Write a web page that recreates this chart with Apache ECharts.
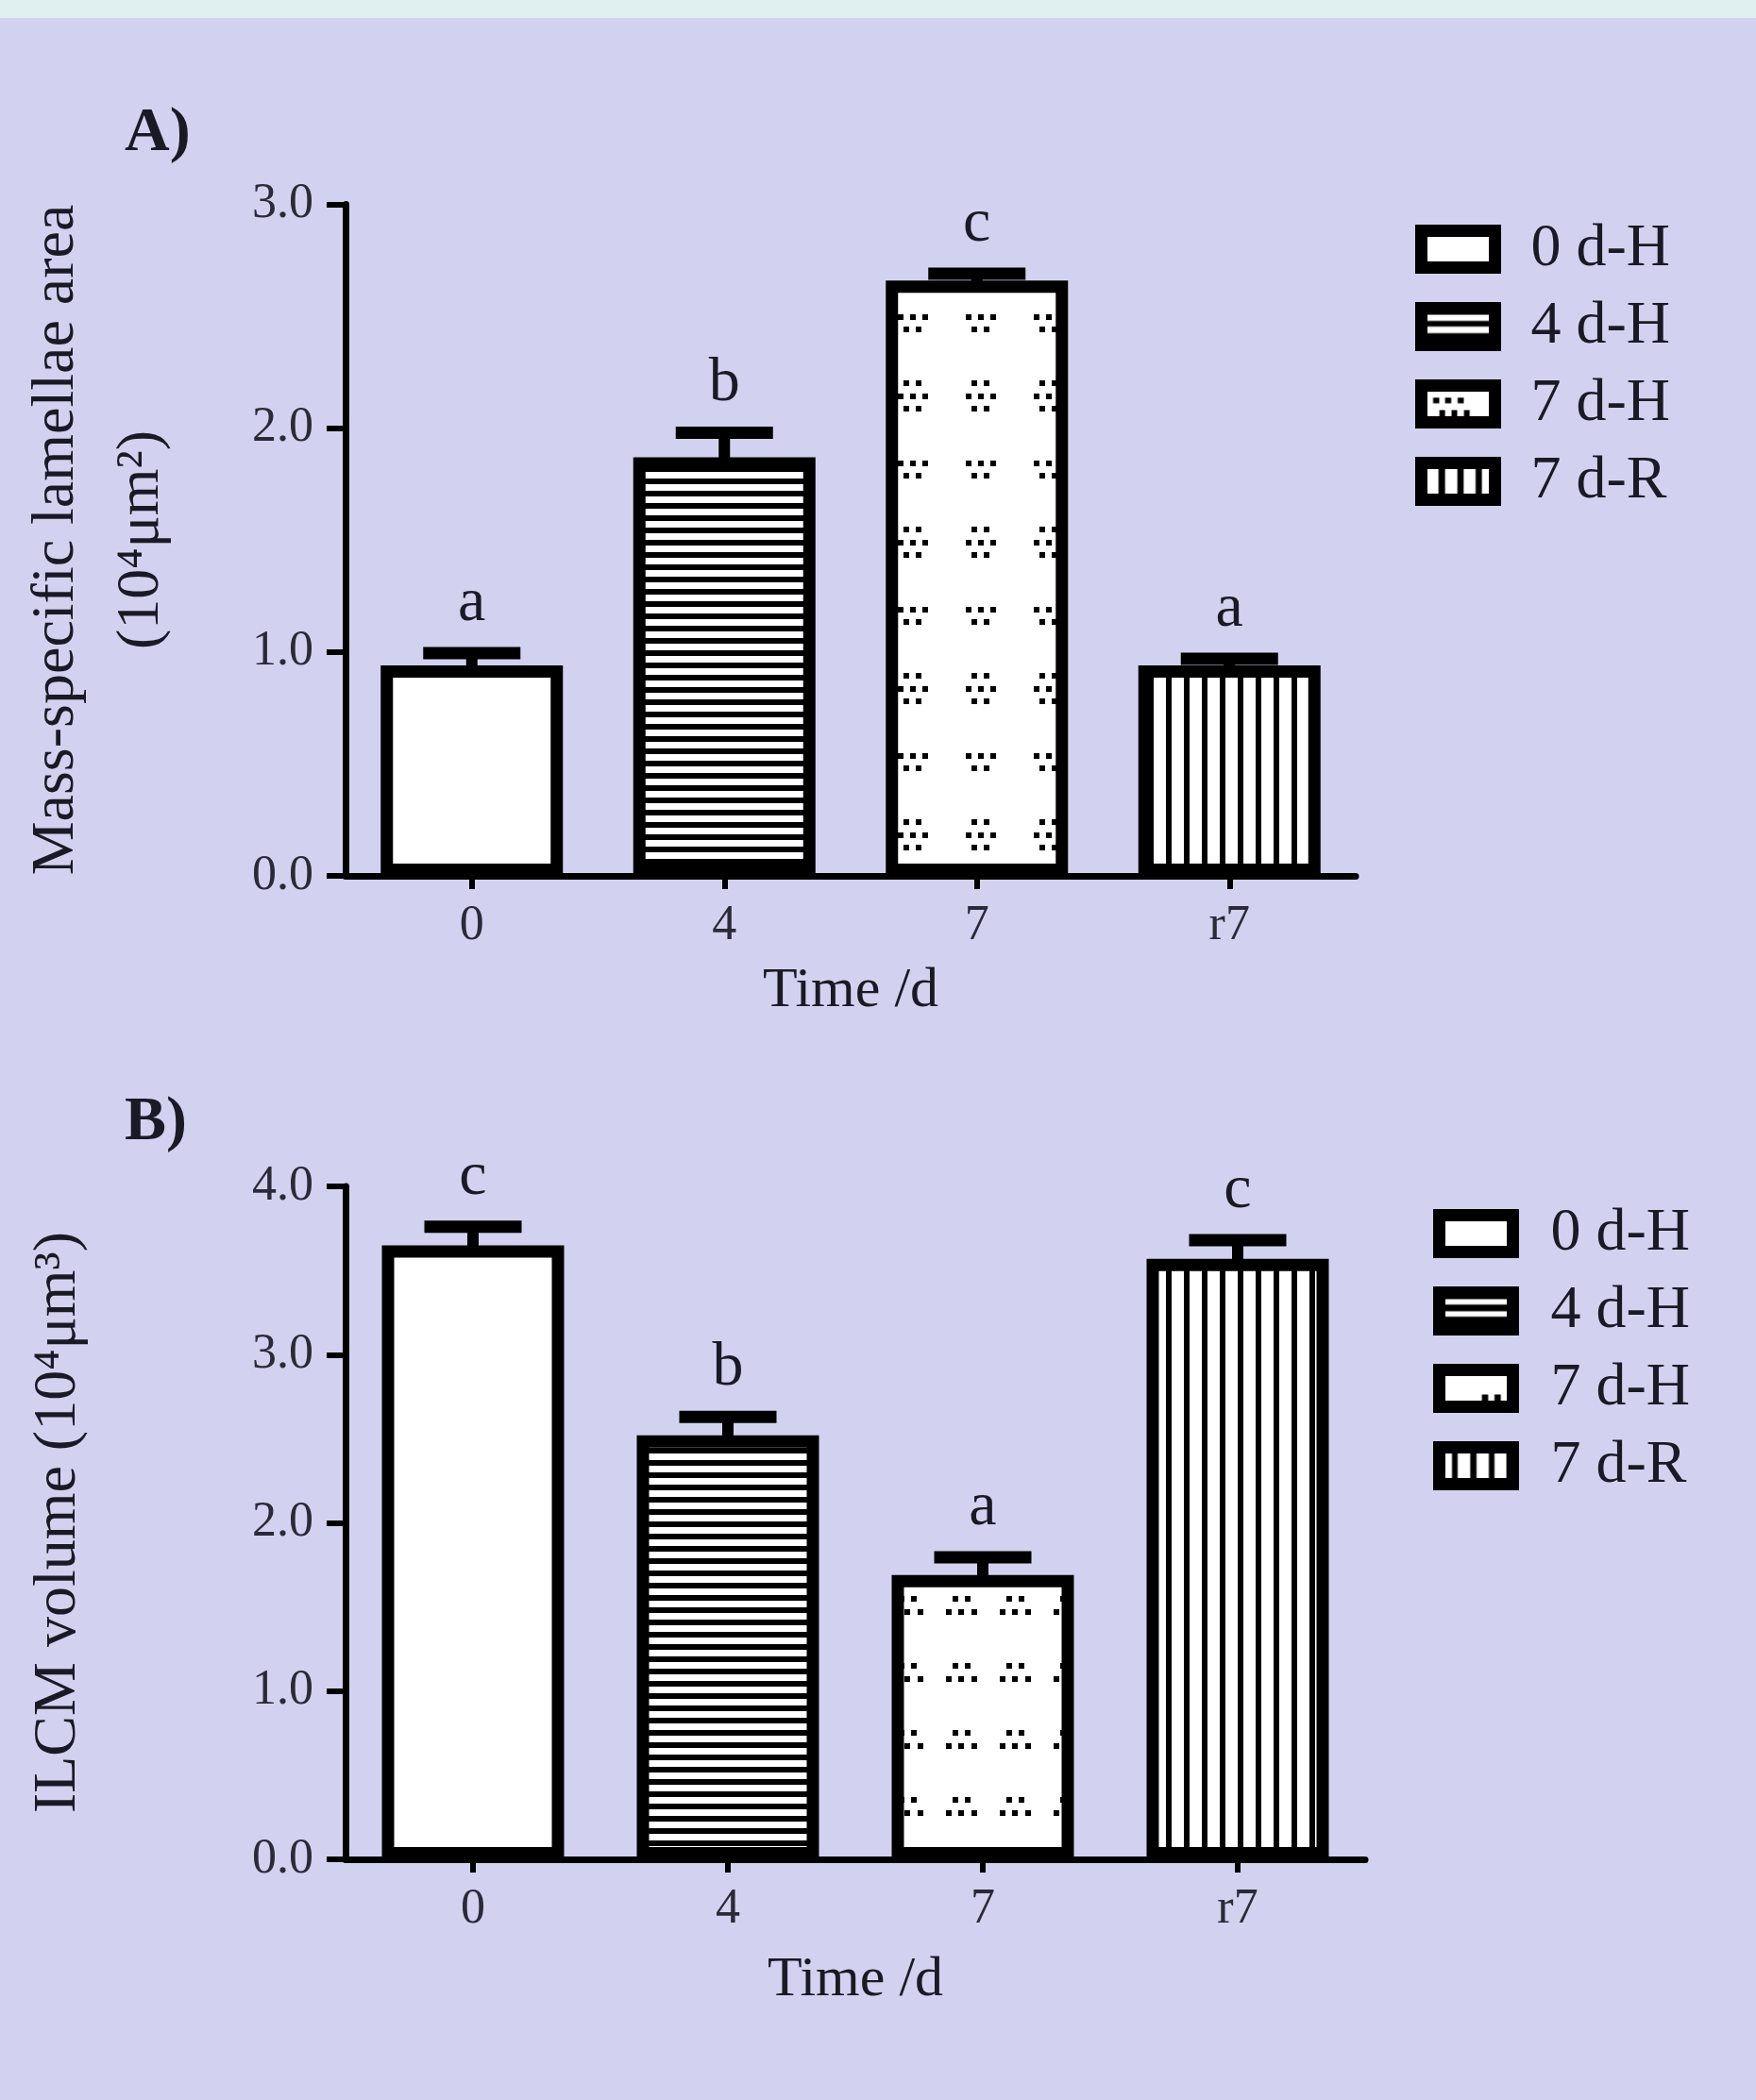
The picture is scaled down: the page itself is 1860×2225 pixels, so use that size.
<!DOCTYPE html>
<html>
<head>
<meta charset="utf-8">
<script src="https://cdn.jsdelivr.net/npm/echarts@6/dist/echarts.min.js"></script>
<style>
html,body{margin:0;padding:0;background:#d2d2f0;}
#c{width:1860px;height:2225px;}
</style>
</head>
<body>
<div id="c"></div>
<script>
// ---------------- data ----------------
const categories = ['0', '4', '7', 'r7'];
const seriesNames = ['0 d-H', '4 d-H', '7 d-H', '7 d-R'];

const meanA = [0.94, 1.87, 2.66, 0.94];
const errA = [0.055, 0.11, 0.03, 0.03];
const lettersA = ['a', 'b', 'c', 'a'];
const yTicksA = ['0.0', '1.0', '2.0', '3.0'];

const meanB = [3.65, 2.52, 1.69, 3.57];
const errB = [0.11, 0.11, 0.105, 0.11];
const lettersB = ['c', 'b', 'a', 'c'];
const yTicksB = ['0.0', '1.0', '2.0', '3.0', '4.0'];

const xTitle = 'Time /d';
const yTitleA = 'Mass-specific lamellae area\n(10\u2074\u03bcm\u00b2)';
const yTitleB = 'ILCM volume (10\u2074\u03bcm\u00b3)';

// ---------------- patterns ----------------
function cv(w, h, draw) {
  const c = document.createElement('canvas');
  c.width = w; c.height = h;
  const g = c.getContext('2d');
  draw(g);
  return c;
}
const hStripe = cv(4, 13, g => { g.fillStyle = '#fff'; g.fillRect(0, 0, 4, 13); g.fillStyle = '#000'; g.fillRect(0, 0, 4, 6); });
const vStripe = cv(19, 4, g => { g.fillStyle = '#fff'; g.fillRect(0, 0, 19, 4); g.fillStyle = '#000'; g.fillRect(0, 0, 6, 4); });

// dot-cluster tile; rows: [dy, [dx...]] relative to (x0, y0); wraps around tile edges
function dotTile(w, h, x0, y0, rows) {
  return cv(w, h, g => {
    g.fillStyle = '#fff'; g.fillRect(0, 0, w, h);
    g.fillStyle = '#000';
    rows.forEach(r => r[1].forEach(dx => {
      const x = ((x0 + dx) % w + w) % w, y = ((y0 + r[0]) % h + h) % h;
      [-w, 0, w].forEach(ox => [-h, 0, h].forEach(oy => g.fillRect(Math.round(x + ox), Math.round(y + oy), 6, 6)));
    }));
  });
}
const dotsA = dotTile(72, 155, 14.7, 22.7, [
  [0, [0, 13, 26]], [13, [6.5, 19.5]],
  [70.6, [6.5, 19.5]], [84, [0, 13, 26]], [97, [6.5, 19.5]]
]);
const dotsB = dotTile(57, 71, 32.8, 58, [
  [0, [7, 20.5]], [13.5, [0, 13.5, 27]]
]);

const fillsA = ['#ffffff', { image: hStripe, repeat: 'repeat' }, { image: dotsA, repeat: 'repeat' }, { image: vStripe, repeat: 'repeat' }];
const fillsB = ['#ffffff', { image: hStripe, repeat: 'repeat' }, { image: dotsB, repeat: 'repeat' }, { image: vStripe, repeat: 'repeat' }];

// legend icons (78x39 local rect, 13px stroke)
function iconCanvas(whites, dotsList) {
  return cv(78, 39, g => {
    g.fillStyle = '#000'; g.fillRect(0, 0, 78, 39);
    g.fillStyle = '#fff';
    whites.forEach(r => g.fillRect(r[0], r[1], r[2], r[3]));
    g.fillStyle = '#000';
    (dotsList || []).forEach(r => g.fillRect(r[0], r[1], r[2], r[3]));
  });
}
const legIconsA = [
  '#ffffff',
  { image: iconCanvas([[0, 7, 78, 6.5], [0, 19.5, 78, 7]]), repeat: 'no-repeat' },
  { image: iconCanvas([[0, 0, 78, 39]], [[12.5, 12.8, 6.5, 6], [25.2, 12.8, 6.5, 6], [38.5, 12.8, 6.5, 6], [19.2, 26, 6, 13], [32, 26, 6, 13], [45.2, 26, 6, 13]]), repeat: 'no-repeat' },
  { image: iconCanvas([[0, 0, 18.2, 39], [25.2, 0, 13, 39], [44.8, 0, 12.7, 39], [64.2, 0, 14, 39]]), repeat: 'no-repeat' }
];
const legIconsB = [
  '#ffffff',
  { image: iconCanvas([[0, 7, 78, 5.7], [0, 19.8, 78, 5.7]]), repeat: 'no-repeat' },
  { image: iconCanvas([[0, 0, 78, 39]], [[45.2, 26, 6.6, 13], [58.5, 26, 6.7, 13]]), repeat: 'no-repeat' },
  { image: iconCanvas([[0, 0, 13.5, 39], [19.5, 0, 13.3, 39], [39.5, 0, 13, 39], [58.5, 0, 12.7, 39]]), repeat: 'no-repeat' }
];

// ---------------- styles ----------------
const FONT = 'Liberation Serif';
const TXT = '#1a1a26';
const TICK_TXT = '#2a2a38';

function xAxis(gi, gap) {
  return {
    type: 'category', gridIndex: gi, data: categories,
    axisLine: { show: true, lineStyle: { color: '#000', width: 7 } },
    axisTick: { show: true, alignWithLabel: true, length: 14, lineStyle: { color: '#000', width: 6 } },
    axisLabel: { margin: 27, fontFamily: FONT, fontSize: 52, color: TICK_TXT },
    splitLine: { show: false },
    name: xTitle, nameLocation: 'middle', nameGap: gap,
    nameTextStyle: { fontFamily: FONT, fontSize: 60, color: TXT }
  };
}
function yAxis(gi, max, ticks) {
  return {
    type: 'value', gridIndex: gi, min: 0, max: max, interval: 1,
    axisLine: { show: true, lineStyle: { color: '#000', width: 7 } },
    axisTick: { show: true, length: 20, lineStyle: { color: '#000', width: 6 } },
    axisLabel: { margin: 34, fontFamily: FONT, fontSize: 52, color: TICK_TXT,
      formatter: v => ticks[Math.round(v)] },
    splitLine: { show: false }
  };
}
function barSeries(gi, means, fills) {
  return seriesNames.map((nm, k) => ({
    type: 'bar', name: nm, xAxisIndex: gi, yAxisIndex: gi, silent: true,
    barWidth: 193, barGap: '-100%',
    itemStyle: { color: fills[k], borderColor: '#000', borderWidth: 13 },
    data: categories.map((c, i) => (i === k ? means[i] : '-'))
  }));
}
function errSeries(gi, means, errs, letters) {
  return {
    type: 'custom', xAxisIndex: gi, yAxisIndex: gi, z: 5, silent: true,
    data: means.map((m, i) => [i, m, errs[i]]),
    renderItem: (params, api) => {
      const i = api.value(0), m = api.value(1), e = api.value(2);
      const base = api.coord([i, m]);
      const top = api.coord([i, m + e]);
      const half = 51.5;
      return {
        type: 'group', children: [
          { type: 'line', shape: { x1: base[0], y1: base[1] + 6, x2: top[0], y2: top[1] }, style: { stroke: '#000', lineWidth: 12 } },
          { type: 'line', shape: { x1: top[0] - half, y1: top[1], x2: top[0] + half, y2: top[1] }, style: { stroke: '#000', lineWidth: 13 } },
          { type: 'text', x: top[0], y: top[1] - 52,
            style: { text: letters[params.dataIndex], fontFamily: FONT, fontSize: 66, fill: TXT, align: 'center', verticalAlign: 'middle' } }
        ]
      };
    }
  };
}
function legend(left, top, icons, padLeft) {
  return {
    orient: 'vertical', left: left, top: top, padding: 0, itemGap: 18,
    itemWidth: 78, itemHeight: 39, icon: 'rect', selectedMode: false,
    itemStyle: { borderColor: '#000', borderWidth: 13 },
    textStyle: { fontFamily: FONT, fontSize: 64, color: TXT, lineHeight: 52, padding: [0, 0, 0, padLeft] },
    data: seriesNames.map((nm, k) => ({ name: nm, icon: 'rect', itemStyle: { color: icons[k], borderColor: '#000', borderWidth: 13 } }))
  };
}

const chart = echarts.init(document.getElementById('c'), null, { renderer: 'canvas' });
chart.setOption({
  backgroundColor: '#d2d2f0',
  animation: false,
  grid: [
    { left: 366, top: 216.5, width: 1070, height: 711.5, outerBoundsMode: 'none', containLabel: false },
    { left: 366, top: 1257, width: 1080, height: 713, outerBoundsMode: 'none', containLabel: false }
  ],
  xAxis: [xAxis(0, 92), xAxis(1, 98)],
  yAxis: [yAxis(0, 3, yTicksA), yAxis(1, 4, yTicksB)],
  legend: [legend(1499, 232, legIconsA, 33), legend(1518, 1275, legIconsB, 35)],
  graphic: [
    { type: 'rect', left: 0, top: 0, shape: { width: 1860, height: 19 }, style: { fill: '#e0f0f0' }, silent: true },
    { type: 'text', x: 132, y: 142, style: { text: 'A)', fontFamily: FONT, fontSize: 66, fontWeight: 'bold', fill: TXT, align: 'left', verticalAlign: 'middle' } },
    { type: 'text', x: 132, y: 1190, style: { text: 'B)', fontFamily: FONT, fontSize: 66, fontWeight: 'bold', fill: TXT, align: 'left', verticalAlign: 'middle' } },
    { type: 'text', x: 105, y: 572, rotation: Math.PI / 2, style: { text: yTitleA, fontFamily: FONT, fontSize: 64, lineHeight: 90, fill: TXT, align: 'center', verticalAlign: 'middle' } },
    { type: 'text', x: 62, y: 1613, rotation: Math.PI / 2, style: { text: yTitleB, fontFamily: FONT, fontSize: 64, fill: TXT, align: 'center', verticalAlign: 'middle' } }
  ],
  series: [].concat(
    barSeries(0, meanA, fillsA),
    barSeries(1, meanB, fillsB),
    [errSeries(0, meanA, errA, lettersA), errSeries(1, meanB, errB, lettersB)]
  )
});
</script>
</body>
</html>
